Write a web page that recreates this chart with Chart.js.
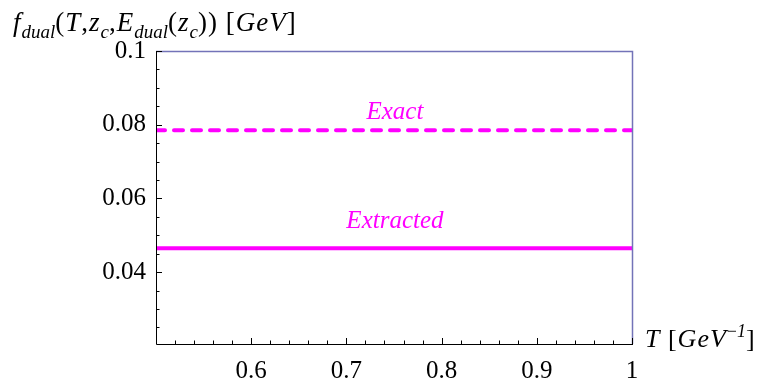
<!DOCTYPE html>
<html>
<head>
<meta charset="utf-8">
<script src="https://cdn.jsdelivr.net/npm/chart.js@4"></script>
<style>
  html, body { margin: 0; padding: 0; background: #fff; }
  #wrap { width: 764px; height: 382px; }
</style>
</head>
<body>
<div id="wrap"><canvas id="fChart" width="764" height="382"></canvas></div>
<script>
// values
const tValues = [0.5, 0.6, 0.7, 0.8, 0.9, 1.0];
const exactValues = [0.0785, 0.0785, 0.0785, 0.0785, 0.0785, 0.0785];
const extractedValues = [0.0465, 0.0465, 0.0465, 0.0465, 0.0465, 0.0465];

const xTicks = [0.6, 0.7, 0.8, 0.9, 1];
const xTickLabels = ['0.6', '0.7', '0.8', '0.9', '1'];
const yTicks = [0.04, 0.06, 0.08, 0.1];
const yTickLabels = ['0.04', '0.06', '0.08', '0.1'];
const xMinor = [0.52, 0.54, 0.56, 0.58, 0.62, 0.64, 0.66, 0.68, 0.72, 0.74, 0.76, 0.78,
                0.82, 0.84, 0.86, 0.88, 0.92, 0.94, 0.96, 0.98];
const yMinor = [0.025, 0.03, 0.035, 0.045, 0.05, 0.055, 0.065, 0.07, 0.075, 0.085, 0.09, 0.095];

const SERIF = '"Liberation Serif", "Times New Roman", serif';
const MAGENTA = '#ff00ff';

function toPoints(ys) {
    return tValues.map((t, i) => ({x: t, y: ys[i]}));
}

// draws text made of parts, some italic, some lowered or raised
function drawRich(ctx, x, y, parts, size, spacing) {
    parts.forEach(p => {
        const small = p.sub || p.sup;
        const fs = small ? Math.round(size * 0.7) : size;
        ctx.letterSpacing = (small ? 0 : spacing) + 'px';
        ctx.font = (p.i ? 'italic ' : '') + fs + 'px ' + SERIF;
        const dy = p.sub ? size * 0.26 : (p.sup ? -size * 0.4 : 0);
        ctx.fillText(p.t, x, y + dy);
        x += ctx.measureText(p.t).width;
    });
    ctx.letterSpacing = '0px';
}

const framePlugin = {
    id: 'frame',
    afterDraw(chart) {
        const ctx = chart.ctx;
        const a = chart.chartArea;
        const xs = chart.scales.x, ys = chart.scales.y;
        ctx.save();

        // top and right frame
        ctx.strokeStyle = '#7373b8';
        ctx.lineWidth = 1.5;
        ctx.beginPath();
        ctx.moveTo(a.left, a.top + 0.5);
        ctx.lineTo(a.right + 0.5, a.top + 0.5);
        ctx.lineTo(a.right + 0.5, a.bottom);
        ctx.stroke();

        // left and bottom axes
        ctx.strokeStyle = '#000';
        ctx.lineWidth = 1;
        ctx.beginPath();
        ctx.moveTo(a.left + 0.5, a.top);
        ctx.lineTo(a.left + 0.5, a.bottom + 0.5);
        ctx.lineTo(a.right + 1, a.bottom + 0.5);
        ctx.stroke();

        // inward ticks
        ctx.beginPath();
        yTicks.forEach(v => { const p = Math.round(ys.getPixelForValue(v)) + 0.5; ctx.moveTo(a.left, p); ctx.lineTo(a.left + 6, p); });
        yMinor.forEach(v => { const p = Math.round(ys.getPixelForValue(v)) + 0.5; ctx.moveTo(a.left, p); ctx.lineTo(a.left + 3.5, p); });
        xTicks.forEach(v => { const p = Math.round(xs.getPixelForValue(v)) + 0.5; ctx.moveTo(p, a.bottom); ctx.lineTo(p, a.bottom - 6); });
        xMinor.forEach(v => { const p = Math.round(xs.getPixelForValue(v)) + 0.5; ctx.moveTo(p, a.bottom); ctx.lineTo(p, a.bottom - 3.5); });
        ctx.stroke();

        // axis titles
        ctx.fillStyle = '#000';
        ctx.textBaseline = 'alphabetic';
        ctx.textAlign = 'left';
        drawRich(ctx, 13, 31, [
            {t: 'f', i: true}, {t: 'dual', i: true, sub: true}, {t: '('}, {t: 'T', i: true}, {t: ','},
            {t: 'z', i: true}, {t: 'c', i: true, sub: true}, {t: ','}, {t: 'E', i: true},
            {t: 'dual', i: true, sub: true}, {t: '('}, {t: 'z', i: true}, {t: 'c', i: true, sub: true},
            {t: ')) ['}, {t: 'GeV', i: true}, {t: ']'}
        ], 27, 1);
        drawRich(ctx, 645, 347, [
            {t: 'T', i: true}, {t: ' ['}, {t: 'GeV', i: true}, {t: '\u2212', sup: true}, {t: '1', i: true, sup: true}, {t: ']'}
        ], 26, 1);

        // curve labels
        ctx.fillStyle = MAGENTA;
        ctx.textAlign = 'center';
        ctx.font = 'italic 25px ' + SERIF;
        ctx.fillText('Exact', xs.getPixelForValue(0.751), ys.getPixelForValue(exactValues[0]) - 11);
        ctx.fillText('Extracted', xs.getPixelForValue(0.751), ys.getPixelForValue(extractedValues[0]) - 20);
        ctx.restore();
    }
};

new Chart(document.getElementById('fChart'), {
    type: 'line',
    data: {
        datasets: [{
            label: 'Exact',
            data: toPoints(exactValues),
            borderColor: MAGENTA,
            borderWidth: 4,
            borderDash: [9, 9],
            borderCapStyle: 'round',
            pointRadius: 0,
            fill: false
        }, {
            label: 'Extracted',
            data: toPoints(extractedValues),
            borderColor: MAGENTA,
            borderWidth: 4,
            pointRadius: 0,
            fill: false
        }]
    },
    options: {
        responsive: false,
        animation: false,
        devicePixelRatio: 1,
        layout: { padding: { top: 51, right: 132, left: 0, bottom: 0 } },
        plugins: { legend: { display: false }, tooltip: { enabled: false } },
        scales: {
            x: {
                type: 'linear',
                min: 0.5,
                max: 1,
                afterFit: s => { s.height = 38; },
                afterBuildTicks: s => { s.ticks = xTicks.map(v => ({value: v})); },
                grid: { display: false, drawTicks: false },
                border: { display: false },
                ticks: {
                    padding: 12,
                    color: '#000',
                    font: { family: SERIF, size: 25 },
                    callback: (v, i) => xTickLabels[i]
                }
            },
            y: {
                type: 'linear',
                min: 0.0205,
                max: 0.1,
                afterFit: s => { s.width = 156; },
                afterBuildTicks: s => { s.ticks = yTicks.map(v => ({value: v})); },
                grid: { display: false, drawTicks: false },
                border: { display: false },
                ticks: {
                    padding: 10,
                    color: '#000',
                    font: { family: SERIF, size: 25 },
                    callback: (v, i) => yTickLabels[i]
                }
            }
        }
    },
    plugins: [framePlugin]
});
</script>
</body>
</html>
